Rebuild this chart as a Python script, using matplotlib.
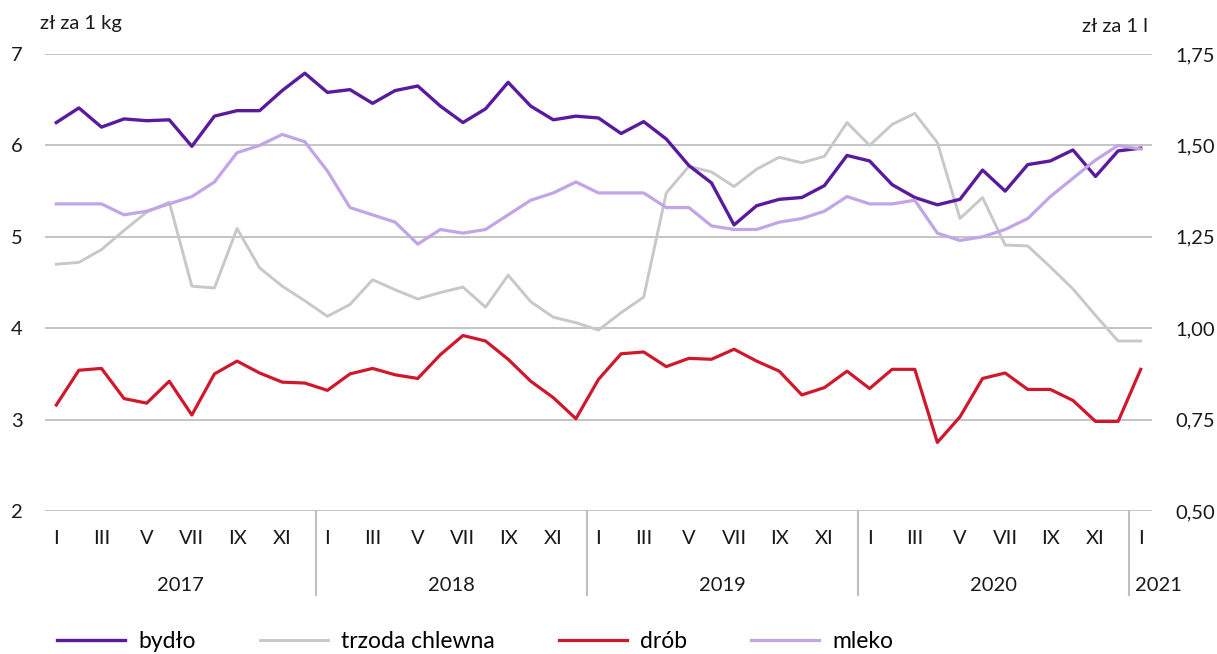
import matplotlib.pyplot as plt
import matplotlib.transforms as mtransforms

plt.rcParams['font.family'] = ['Lato', 'DejaVu Sans']

months = ['I', 'II', 'III', 'IV', 'V', 'VI', 'VII', 'VIII', 'IX', 'X', 'XI', 'XII']
years = ['2017', '2018', '2019', '2020', '2021']

# zł za 1 kg
bydlo = [6.25, 6.41, 6.20, 6.29, 6.27, 6.28, 5.99, 6.32, 6.38, 6.38, 6.60, 6.79,
         6.58, 6.61, 6.46, 6.60, 6.65, 6.43, 6.25, 6.40, 6.69, 6.43, 6.28, 6.32,
         6.30, 6.13, 6.26, 6.07, 5.78, 5.59, 5.13, 5.34, 5.41, 5.43, 5.56, 5.89,
         5.83, 5.57, 5.43, 5.35, 5.41, 5.73, 5.50, 5.79, 5.83, 5.95, 5.66, 5.94,
         5.97]
trzoda = [4.70, 4.72, 4.86, 5.07, 5.27, 5.38, 4.46, 4.44, 5.09, 4.66, 4.46, 4.30,
          4.13, 4.26, 4.53, 4.42, 4.32, 4.39, 4.45, 4.23, 4.58, 4.29, 4.12, 4.06,
          3.98, 4.17, 4.34, 5.48, 5.77, 5.71, 5.55, 5.74, 5.87, 5.81, 5.88, 6.25,
          6.00, 6.23, 6.35, 6.03, 5.20, 5.43, 4.91, 4.90, 4.67, 4.43, 4.14, 3.86,
          3.86]
drob = [3.16, 3.54, 3.56, 3.23, 3.18, 3.42, 3.05, 3.50, 3.64, 3.51, 3.41, 3.40,
        3.32, 3.50, 3.56, 3.49, 3.45, 3.71, 3.92, 3.86, 3.66, 3.42, 3.24, 3.01,
        3.44, 3.72, 3.74, 3.58, 3.67, 3.66, 3.77, 3.64, 3.53, 3.27, 3.35, 3.53,
        3.34, 3.55, 3.55, 2.75, 3.03, 3.45, 3.51, 3.33, 3.33, 3.21, 2.98, 2.98,
        3.55]
# zł za 1 l
mleko = [1.34, 1.34, 1.34, 1.31, 1.32, 1.34, 1.36, 1.40, 1.48, 1.50, 1.53, 1.51,
         1.43, 1.33, 1.31, 1.29, 1.23, 1.27, 1.26, 1.27, 1.31, 1.35, 1.37, 1.40,
         1.37, 1.37, 1.37, 1.33, 1.33, 1.28, 1.27, 1.27, 1.29, 1.30, 1.32, 1.36,
         1.34, 1.34, 1.35, 1.26, 1.24, 1.25, 1.27, 1.30, 1.36, 1.41, 1.46, 1.50,
         1.49]

n = len(bydlo)
x = list(range(n))
grid_c = '#bfbfbf'
txt_c = '#1a1a1a'

fig = plt.figure(figsize=(12.17, 6.54), dpi=100)
ax = fig.add_axes([45 / 1217, 1 - 511 / 654, 1107 / 1217, 457 / 654])
ax2 = ax.twinx()

l1, = ax.plot(x, bydlo, color='#5a1a9e', lw=2.4, zorder=4)
l2, = ax.plot(x, trzoda, color='#c8c8c8', lw=2.1, zorder=3)
l3, = ax.plot(x, drob, color='#d0182c', lw=2.3, zorder=3)
l4, = ax2.plot(x, mleko, color='#c1a5e6', lw=2.3)

ax.set_xlim(-0.5, n - 0.5)
ax.set_ylim(2, 7)
ax2.set_ylim(0.5, 1.75)
ax.set_yticks(range(2, 8))
ax2.set_yticks([0.5, 0.75, 1.0, 1.25, 1.5, 1.75])
ax2.set_yticklabels(['0,50', '0,75', '1,00', '1,25', '1,50', '1,75'])
ax.yaxis.grid(True, color=grid_c, lw=1.3)
ax.set_axisbelow(True)

ax.set_xticks(range(0, n, 2))
ax.set_xticklabels([months[i % 12] for i in range(0, n, 2)])

for a in (ax, ax2):
    for s in a.spines.values():
        s.set_visible(False)
    a.tick_params(length=0, labelsize=14.5, colors=txt_c)
ax.tick_params(axis='y', pad=16)
ax2.tick_params(axis='y', pad=17)
ax.tick_params(axis='x', pad=14)

trans = mtransforms.blended_transform_factory(ax.transData, ax.transAxes)
for k in range(1, len(years)):
    xs = 12 * k - 0.5
    ax.plot([xs, xs], [0, -0.184], color=grid_c, lw=1.5, transform=trans, clip_on=False)
for k, yr in enumerate(years):
    start = 12 * k - 0.5
    end = 12 * (k + 1) - 0.5
    if end > n:
        ax.text(start + 0.25, -0.162, yr, transform=trans, ha='left', va='center',
                fontsize=14.5, color=txt_c)
    else:
        ax.text((start + end) / 2, -0.162, yr, transform=trans, ha='center', va='center',
                fontsize=14.5, color=txt_c)

fig.text(40 / 1217, 1 - 24 / 654, 'zł za 1 kg', ha='left', va='center', fontsize=14.5, color=txt_c)
fig.text(1148 / 1217, 1 - 26 / 654, 'zł za 1 l', ha='right', va='center', fontsize=14.5, color=txt_c)

fig.legend([l1, l2, l3, l4], ['bydło', 'trzoda chlewna', 'drób', 'mleko'],
           loc='center left', bbox_to_anchor=(57 / 1217, 12 / 654), ncol=4, frameon=False,
           fontsize=16.5, handlelength=2.97, handletextpad=0.57, columnspacing=2.8,
           borderpad=0, borderaxespad=0)

fig.savefig('out.png', dpi=100)
